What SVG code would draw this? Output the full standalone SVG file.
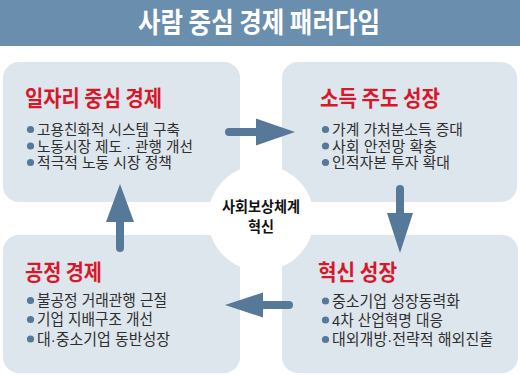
<svg xmlns="http://www.w3.org/2000/svg" width="520" height="375" viewBox="0 0 520 375">
<style>
.box{fill:#dde5ed}
.hd{font-family:"Noto Sans CJK KR","Noto Sans",sans-serif;font-weight:700;font-size:22px;fill:#d7182a}
.it{font-family:"Liberation Sans","Noto Sans CJK KR",sans-serif;font-size:15.5px;fill:#2e2e2e}
.it2{font-family:"Liberation Sans","Noto Sans CJK KR",sans-serif;font-size:14.5px;fill:#2e2e2e}
.dot{fill:#56799a}
.ctr{font-family:"Liberation Sans","Noto Sans CJK KR",sans-serif;font-weight:700;font-size:15px;fill:#111;text-anchor:middle}
.shaft{stroke:#56799a;stroke-width:8;stroke-linecap:round;fill:none}
.head{fill:#56799a}
</style>
<rect width="520" height="375" fill="#ffffff"/>
<g id="title">
<rect x="0" y="0" width="520" height="46" fill="#6a8ead"/>
<text x="138" y="33" textLength="242" lengthAdjust="spacingAndGlyphs" style="font-family:'Noto Sans CJK KR','Noto Sans',sans-serif;font-weight:700;font-size:28px;fill:#ffffff">사람 중심 경제 패러다임</text>
</g>
<g id="box-jobs">
<rect class="box" x="3" y="62" width="237" height="140" rx="16"/>
</g>
<g id="box-income">
<rect class="box" x="282" y="62" width="235" height="140" rx="16"/>
</g>
<g id="box-fair">
<rect class="box" x="3" y="235" width="237" height="138" rx="16"/>
</g>
<g id="box-innovation">
<rect class="box" x="282" y="235" width="236" height="138" rx="16"/>
</g>
<g id="center">
<circle cx="261" cy="218" r="53" fill="#ffffff"/>
<text class="ctr" x="261" y="212" textLength="78" lengthAdjust="spacingAndGlyphs">사회보상체계</text>
<text class="ctr" x="261" y="232" textLength="26" lengthAdjust="spacingAndGlyphs">혁신</text>
</g>
<g id="jobs-text">
<text class="hd" x="25" y="106" textLength="137" lengthAdjust="spacingAndGlyphs">일자리 중심 경제</text>
<circle class="dot" cx="30.5" cy="129.5" r="3.6"/>
<circle class="dot" cx="30.5" cy="146" r="3.6"/>
<circle class="dot" cx="30.5" cy="162.5" r="3.6"/>
<text class="it2" x="37" y="135" textLength="143" lengthAdjust="spacingAndGlyphs">고용친화적 시스템 구축</text>
<text class="it2" x="37" y="151.5" textLength="156" lengthAdjust="spacingAndGlyphs">노동시장 제도 · 관행 개선</text>
<text class="it2" x="37" y="168" textLength="135" lengthAdjust="spacingAndGlyphs">적극적 노동 시장 정책</text>
</g>
<g id="income-text">
<text class="hd" x="320" y="106" textLength="120" lengthAdjust="spacingAndGlyphs">소득 주도 성장</text>
<circle class="dot" cx="325.5" cy="129.5" r="3.6"/>
<circle class="dot" cx="325.5" cy="146" r="3.6"/>
<circle class="dot" cx="325.5" cy="162.5" r="3.6"/>
<text class="it2" x="332" y="135" textLength="131" lengthAdjust="spacingAndGlyphs">가계 가처분소득 증대</text>
<text class="it2" x="332" y="151.5" textLength="105" lengthAdjust="spacingAndGlyphs">사회 안전망 확충</text>
<text class="it2" x="332" y="168" textLength="118" lengthAdjust="spacingAndGlyphs">인적자본 투자 확대</text>
</g>
<g id="fair-text">
<text class="hd" x="25" y="280" textLength="77" lengthAdjust="spacingAndGlyphs">공정 경제</text>
<circle class="dot" cx="30.5" cy="300.5" r="3.6"/>
<circle class="dot" cx="30.5" cy="319.5" r="3.6"/>
<circle class="dot" cx="30.5" cy="339" r="3.6"/>
<text class="it" x="37" y="306" textLength="130" lengthAdjust="spacingAndGlyphs">불공정 거래관행 근절</text>
<text class="it" x="37" y="325" textLength="116" lengthAdjust="spacingAndGlyphs">기업 지배구조 개선</text>
<text class="it" x="37" y="344.5" textLength="133" lengthAdjust="spacingAndGlyphs">대·중소기업 동반성장</text>
</g>
<g id="innovation-text">
<text class="hd" x="318" y="280" textLength="79" lengthAdjust="spacingAndGlyphs">혁신 성장</text>
<circle class="dot" cx="325.5" cy="301" r="3.6"/>
<circle class="dot" cx="325.5" cy="320" r="3.6"/>
<circle class="dot" cx="325.5" cy="339.5" r="3.6"/>
<text class="it" x="332" y="306.5" textLength="128" lengthAdjust="spacingAndGlyphs">중소기업 성장동력화</text>
<text class="it" x="332" y="325.5" textLength="111" lengthAdjust="spacingAndGlyphs">4차 산업혁명 대응</text>
<text class="it" x="332" y="345" textLength="161" lengthAdjust="spacingAndGlyphs">대외개방·전략적 해외진출</text>
</g>
<g id="connectors">
<line class="shaft" x1="229" y1="132" x2="258" y2="132"/>
<polygon class="head" points="256,118.5 295,132 256,145.5"/>
<line class="shaft" x1="400" y1="189" x2="400" y2="215"/>
<polygon class="head" points="387,213 413,213 400,253"/>
<line class="shaft" x1="289" y1="305" x2="261" y2="305"/>
<polygon class="head" points="263,292.5 263,317.5 225,305"/>
<line class="shaft" x1="120" y1="248" x2="120" y2="220"/>
<polygon class="head" points="106,222 134,222 120,184"/>
</g>
</svg>
